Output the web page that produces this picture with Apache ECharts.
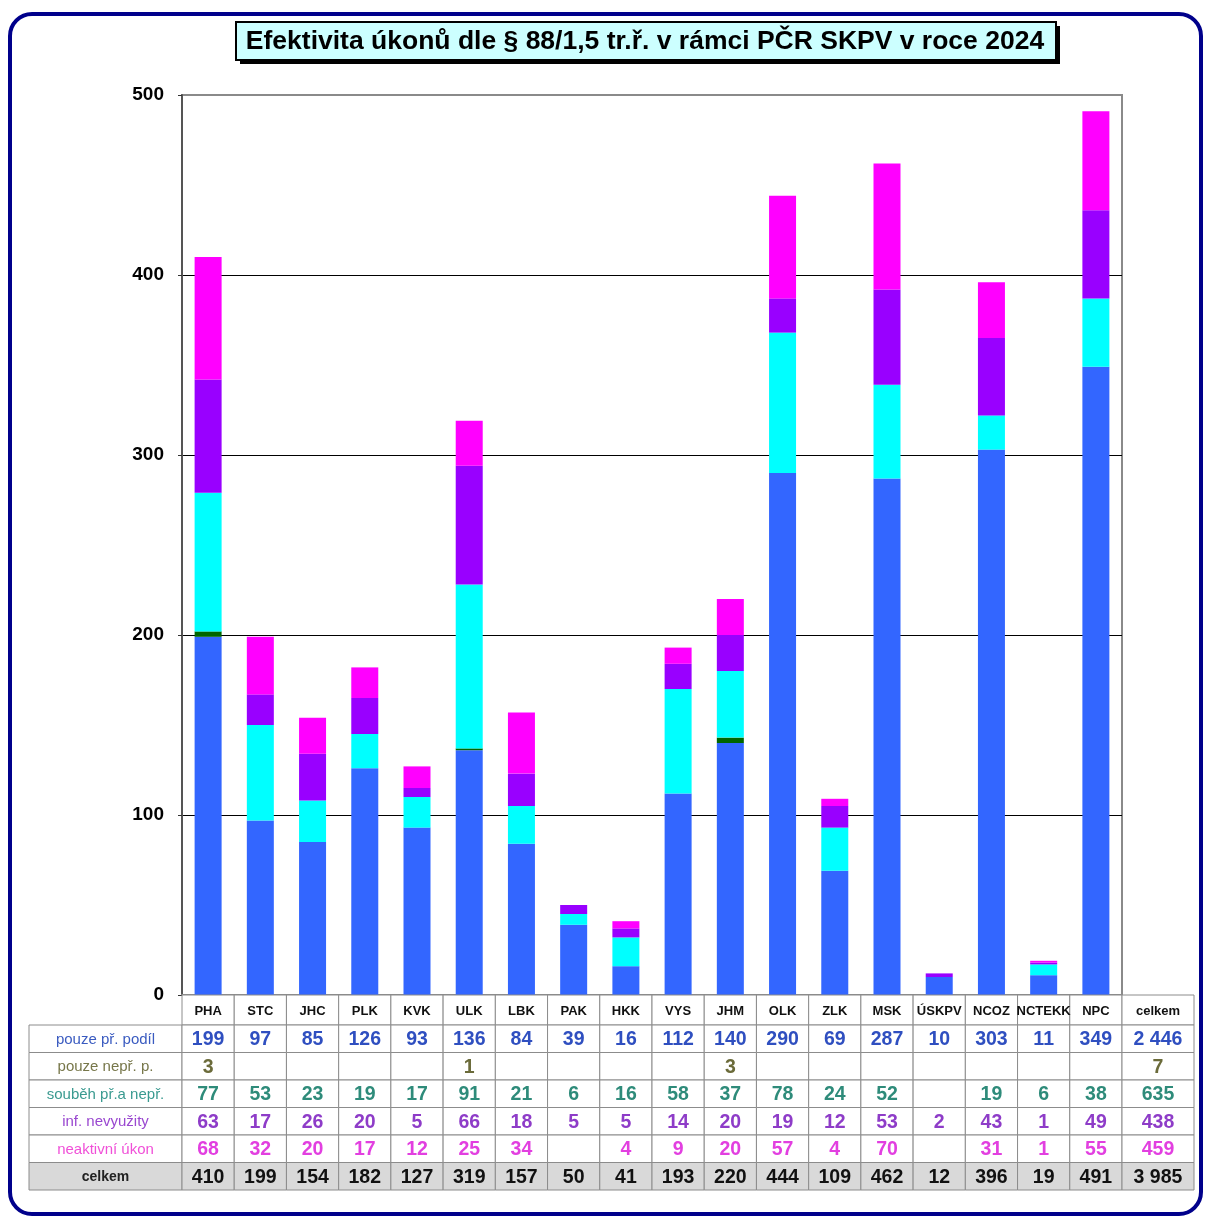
<!DOCTYPE html>
<html>
<head>
<meta charset="utf-8">
<script src="https://cdn.jsdelivr.net/npm/echarts@6/dist/echarts.min.js"></script>
<style>
html,body{margin:0;padding:0;background:#fff;}
#c{width:1210px;height:1219px;}
</style>
</head>
<body>
<div id="c"></div>
<script>
const categories = ['PHA','STC','JHC','PLK','KVK','ULK','LBK','PAK','HKK','VYS','JHM','OLK','ZLK','MSK','ÚSKPV','NCOZ','NCTEKK','NPC'];
const rowLabels = ['pouze př. podíl','pouze nepř. p.','souběh př.a nepř.','inf. nevyužity','neaktivní úkon','celkem'];
const onlyDirect   = [199,97,85,126,93,136,84,39,16,112,140,290,69,287,10,303,11,349];
const onlyIndirect = [3,null,null,null,null,1,null,null,null,null,3,null,null,null,null,null,null,null];
const concurrent   = [77,53,23,19,17,91,21,6,16,58,37,78,24,52,null,19,6,38];
const infUnused    = [63,17,26,20,5,66,18,5,5,14,20,19,12,53,2,43,1,49];
const inactive     = [68,32,20,17,12,25,34,null,4,9,20,57,4,70,null,31,1,55];
const totals       = [410,199,154,182,127,319,157,50,41,193,220,444,109,462,12,396,19,491];
const rowTotals    = ['2 446','7','635','438','459','3 985'];
const titleText = 'Efektivita úkonů dle § 88/1,5 tr.ř. v rámci PČR SKPV v roce 2024';

const seriesColors = ['#3366FF','#006600','#00FFFF','#9900FF','#FF00FF'];
const textColors = ['#2F4FC0','#6B6B3A','#2E8B7A','#8E3CC8','#E23FE0','#111111'];
const labelColors = ['#3A5BC0','#77774A','#3A9A90','#9A48D0','#F050D8','#222222'];
const rows = [onlyDirect, onlyIndirect, concurrent, infUnused, inactive, totals];

const chart = echarts.init(document.getElementById('c'));
const FONT = '"Liberation Sans", Arial, sans-serif';
const GL = 182, GT = 95, GW = 940, GH = 900;

const option = {
  animation: false,
  backgroundColor: '#ffffff',
  grid: { left: GL, top: GT, width: GW, height: GH, show: true, borderColor: '#8a8a8a', borderWidth: 2, backgroundColor: '#fff' },
  xAxis: {
    type: 'category', data: categories,
    axisLine: { show: true, lineStyle: { color: '#8a8a8a', width: 2 } },
    axisTick: { show: false }, axisLabel: { show: false }
  },
  yAxis: {
    type: 'value', min: 0, max: 500, interval: 100,
    axisLine: { show: true, lineStyle: { color: '#555', width: 2 } },
    axisTick: { show: true, length: 4, lineStyle: { color: '#333' } },
    axisLabel: { margin: 18, fontFamily: FONT, fontSize: 19, fontWeight: 'bold', color: '#000' },
    splitLine: { show: true, showMinLine: false, showMaxLine: false, lineStyle: { color: '#000', width: 1 } }
  },
  series: [onlyDirect, onlyIndirect, concurrent, infUnused, inactive].map((d, i) => ({
    name: rowLabels[i], type: 'bar', stack: 'all', data: d, barWidth: 27,
    itemStyle: { color: seriesColors[i] }
  }))
};
chart.setOption(option);

const centers = categories.map(c => chart.convertToPixel({ xAxisIndex: 0 }, c));
const colW = centers[1] - centers[0];
const tableTop = GT + GH;
const headH = 30, rowH = 27.5;
const labelX = 29, totalX = GL + GW, totalW = 72;
const stroke = '#8c8c8c';
const g = [];
function cell(x, y, w, h, fill) {
  g.push({ type: 'rect', shape: { x, y, width: w, height: h }, style: { fill, stroke, lineWidth: 1 }, z: 10 });
}
function txt(x, y, s, color, size, weight) {
  g.push({ type: 'text', x, y, style: { text: s, fill: color, font: `${weight} ${size}px ${FONT}`, align: 'center', verticalAlign: 'middle' }, z: 11 });
}
categories.forEach((c, i) => {
  cell(centers[i] - colW / 2, tableTop, colW, headH, '#ffffff');
  txt(centers[i], tableTop + headH / 2 + 1, c, '#111', 13, 'bold');
});
cell(totalX, tableTop, totalW, headH, '#ffffff');
txt(totalX + totalW / 2, tableTop + headH / 2 + 1, 'celkem', '#111', 13, 'bold');
rows.forEach((r, ri) => {
  const y = tableTop + headH + ri * rowH;
  const fill = ri === 5 ? '#D9D9D9' : '#ffffff';
  cell(labelX, y, GL - labelX, rowH, fill);
  txt((labelX + GL) / 2, y + rowH / 2 + 1, rowLabels[ri], labelColors[ri], ri === 5 ? 14 : 15, ri === 5 ? 'bold' : 'normal');
  r.forEach((v, i) => {
    cell(centers[i] - colW / 2, y, colW, rowH, fill);
    if (v !== null) txt(centers[i], y + rowH / 2 + 1, String(v), textColors[ri], 19.5, 'bold');
  });
  cell(totalX, y, totalW, rowH, fill);
  txt(totalX + totalW / 2, y + rowH / 2 + 1, rowTotals[ri], textColors[ri], 19.5, 'bold');
});
// title box with hard shadow
g.push({ type: 'rect', shape: { x: 240, y: 26, width: 820, height: 38 }, style: { fill: '#000' }, z: 12 });
g.push({ type: 'rect', shape: { x: 236, y: 22, width: 820, height: 38 }, style: { fill: '#CCFFFF', stroke: '#000', lineWidth: 2 }, z: 13 });
g.push({ type: 'text', x: 645, y: 42, style: { text: titleText, fill: '#000', font: `bold 26.5px ${FONT}`, align: 'center', verticalAlign: 'middle' }, z: 14 });
// outer rounded frame
g.push({ type: 'rect', shape: { x: 10, y: 14, width: 1191, height: 1200, r: 22 }, style: { fill: 'none', stroke: '#00008B', lineWidth: 4 }, z: 20 });
chart.setOption({ graphic: g });
</script>
</body>
</html>
